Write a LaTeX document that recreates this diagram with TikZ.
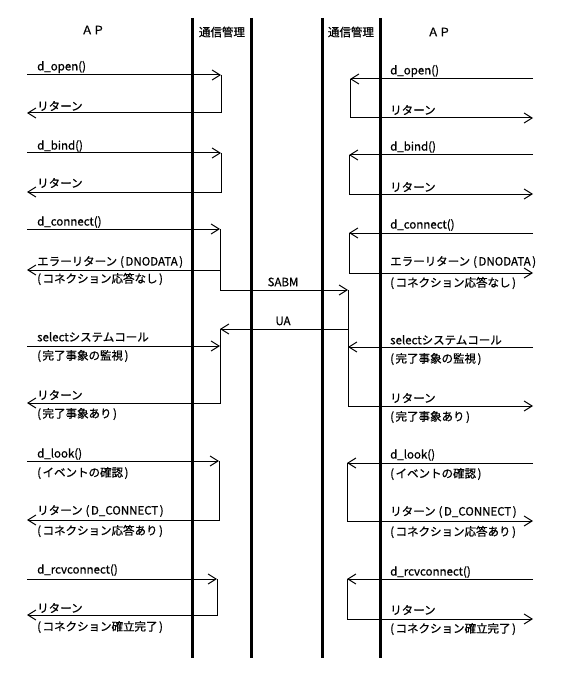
\documentclass[tikz,border=0pt]{standalone}
\usepackage{fontspec}
\setmainfont{Noto Sans CJK JP}
\newfontfamily\jpf{Noto Sans CJK JP}[FakeBold=0.8]
\usetikzlibrary{arrows.meta}
\newcommand{\lp}{(\hspace{1.5pt}}
\newcommand{\rp}{\hspace{1.5pt})}
\tikzset{
  life/.style={line width=3pt},
  msg/.style={line width=1pt,-{Straight Barb[length=8pt,width=10pt,line width=1pt]}},
  seg/.style={line width=1pt},
  lbl/.style={anchor=west,inner sep=0pt,font=\jpf\fontsize{11.5}{13}\selectfont},
  hdr/.style={inner sep=0pt,font=\jpf\fontsize{11.5}{13}\selectfont},
}
\begin{document}
\begin{tikzpicture}[x=1pt,y=-1pt]
\useasboundingbox (0,0) rectangle (567,687);
% lifelines
\coordinate (A1) at (192,18);  \coordinate (B1) at (192,658);
\coordinate (A2) at (251,18);  \coordinate (B2) at (251,658);
\coordinate (A3) at (322,18);  \coordinate (B3) at (322,658);
\coordinate (A4) at (380.5,18);\coordinate (B4) at (380.5,658);
\draw[life] (A1) -- (B1);
\draw[life] (A2) -- (B2);
\draw[life] (A3) -- (B3);
\draw[life] (A4) -- (B4);
% headers
\node[hdr] (h1) at (93,30) {ＡＰ};
\node[hdr] (h2) at (222,32) {通信管理};
\node[hdr] (h3) at (351,32) {通信管理};
\node[hdr] (h4) at (439,32) {ＡＰ};

% ---------- left side ----------
\coordinate (la1) at (27,75);  \coordinate (la2) at (221,75);  \coordinate (la3) at (27,113);
\draw[msg] (la1) -- (la2);
\draw[msg] (la2) |- (la3);
\coordinate (lb1) at (27,153); \coordinate (lb2) at (221,153); \coordinate (lb3) at (27,192);
\draw[msg] (lb1) -- (lb2);
\draw[msg] (lb2) |- (lb3);
\coordinate (lc1) at (27,229); \coordinate (lc2) at (220,229);
\coordinate (lc3) at (220,270); \coordinate (lc4) at (27,270);
\coordinate (rs) at (348,290);
\draw[msg] (lc1) -- (lc2);
\draw[msg] (lc2) |- (rs);
\draw[msg] (lc3) -- (lc4);
% UA
\coordinate (ua1) at (348,329); \coordinate (ua2) at (220,329);
\draw[msg] (ua1) -- (ua2);
\coordinate (ls1) at (27,346); \coordinate (ls2) at (220,346); \coordinate (ls3) at (27,403);
\draw[msg] (ls1) -- (ls2);
\draw[msg] (ua2) |- (ls3);
\coordinate (ld1) at (27,461); \coordinate (ld2) at (219,461); \coordinate (ld3) at (27,520);
\draw[msg] (ld1) -- (ld2);
\draw[msg] (ld2) |- (ld3);
\coordinate (lr1) at (27,579); \coordinate (lr2) at (217,579); \coordinate (lr3) at (27,615);
\draw[msg] (lr1) -- (lr2);
\draw[msg] (lr2) |- (lr3);

% ---------- right side ----------
\coordinate (ra1) at (533,79);  \coordinate (ra2) at (350,79);  \coordinate (ra3) at (533,118);
\draw[msg] (ra1) -- (ra2);
\draw[msg] (ra2) |- (ra3);
\coordinate (rb1) at (533,155); \coordinate (rb2) at (349,155); \coordinate (rb3) at (533,194);
\draw[msg] (rb1) -- (rb2);
\draw[msg] (rb2) |- (rb3);
\coordinate (rc1) at (533,233); \coordinate (rc2) at (349,233); \coordinate (rc3) at (533,273);
\draw[msg] (rc1) -- (rc2);
\draw[msg] (rc2) |- (rc3);
\coordinate (rsl1) at (533,347); \coordinate (rsl2) at (348,347); \coordinate (rsl3) at (533,406);
\draw[msg] (rsl1) -- (rsl2);
\draw[msg] (rs) |- (rsl3);
\coordinate (rd1) at (533,463); \coordinate (rd2) at (347,463); \coordinate (rd3) at (533,521);
\draw[msg] (rd1) -- (rd2);
\draw[msg] (rd2) |- (rd3);
\coordinate (rr1) at (533,579); \coordinate (rr2) at (347,579); \coordinate (rr3) at (533,619);
\draw[msg] (rr1) -- (rr2);
\draw[msg] (rr2) |- (rr3);

% center labels
\node[hdr] (sabm) at (283,282) {SABM};
\node[hdr] (ua) at (283,321) {UA};

% left labels
\node[lbl] (l1) at (37,67) {d\_open()};
\node[lbl] (l2) at (37,106) {リターン};
\node[lbl] (l3) at (37,146) {d\_bind()};
\node[lbl] (l4) at (37,183) {リターン};
\node[lbl] (l5) at (37,222) {d\_connect()};
\node[lbl] (l6) at (37,262) {エラーリターン\hspace{3pt}\lp DNODATA\rp};
\node[lbl] (l7) at (37,279) {\lp コネクション応答なし\rp};
\node[lbl] (l8) at (37,337) {selectシステムコール};
\node[lbl] (l9) at (37,356) {\lp 完了事象の監視\rp};
\node[lbl] (l10) at (37,395) {リターン};
\node[lbl] (l11) at (37,414) {\lp 完了事象あり\rp};
\node[lbl] (l12) at (37,454) {d\_look()};
\node[lbl] (l13) at (37,473) {\lp イベントの確認\rp};
\node[lbl] (l14) at (37,511) {リターン\hspace{3pt}\lp D\_CONNECT\rp};
\node[lbl] (l15) at (37,531) {\lp コネクション応答あり\rp};
\node[lbl] (l16) at (37,570) {d\_rcvconnect()};
\node[lbl] (l17) at (37,608) {リターン};
\node[lbl] (l18) at (37,627) {\lp コネクション確立完了\rp};

% right labels
\node[lbl] (r1) at (390,71) {d\_open()};
\node[lbl] (r2) at (390,110) {リターン};
\node[lbl] (r3) at (390,147) {d\_bind()};
\node[lbl] (r4) at (390,187) {リターン};
\node[lbl] (r5) at (390,225) {d\_connect()};
\node[lbl] (r6) at (390,262) {エラーリターン\hspace{3pt}\lp DNODATA\rp};
\node[lbl] (r7) at (390,283) {\lp コネクション応答なし\rp};
\node[lbl] (r8) at (390,340) {selectシステムコール};
\node[lbl] (r9) at (390,359) {\lp 完了事象の監視\rp};
\node[lbl] (r10) at (390,398) {リターン};
\node[lbl] (r11) at (390,417) {\lp 完了事象あり\rp};
\node[lbl] (r12) at (390,455) {d\_look()};
\node[lbl] (r13) at (390,474) {\lp イベントの確認\rp};
\node[lbl] (r14) at (390,512) {リターン\hspace{3pt}\lp D\_CONNECT\rp};
\node[lbl] (r15) at (390,532) {\lp コネクション応答あり\rp};
\node[lbl] (r16) at (390,572) {d\_rcvconnect()};
\node[lbl] (r17) at (390,610) {リターン};
\node[lbl] (r18) at (390,629) {\lp コネクション確立完了\rp};
\end{tikzpicture}
\end{document}
